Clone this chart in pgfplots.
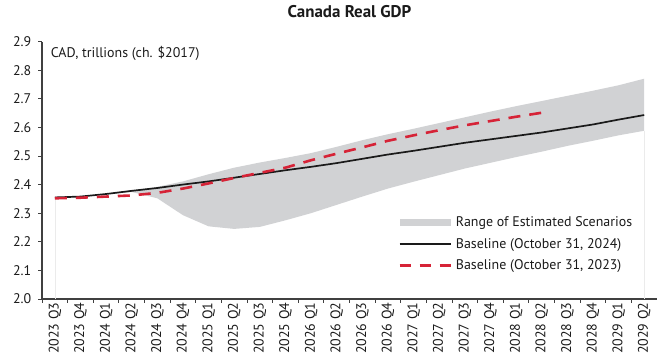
\documentclass[border=0pt]{standalone}
\usepackage{fontspec}
\setmainfont{PT Sans}
\usepackage{pgfplots}
\pgfplotsset{compat=1.18}
\usepgfplotslibrary{fillbetween}
\usepackage{pgfplotstable}

\definecolor{bandgray}{RGB}{209,210,212}
\definecolor{bocred}{RGB}{214,35,55}
\definecolor{axisgray}{RGB}{64,64,64}
\definecolor{linedark}{RGB}{26,26,26}

% quarter index: 0 = 2023 Q3, ..., 23 = 2029 Q2
\pgfplotstableread{
q  gdp
0  2.355
1  2.358
2  2.367
3  2.378
4  2.388
5  2.400
6  2.411
7  2.424
8  2.437
9  2.450
10 2.462
11 2.475
12 2.490
13 2.505
14 2.518
15 2.532
16 2.546
17 2.558
18 2.570
19 2.582
20 2.596
21 2.610
22 2.627
23 2.643
}\baselineTwentyFour

\pgfplotstableread{
q  gdp
0  2.352
1  2.354
2  2.358
3  2.362
4  2.371
5  2.386
6  2.404
7  2.423
8  2.441
9  2.459
10 2.485
11 2.508
12 2.530
13 2.553
14 2.572
15 2.590
16 2.607
17 2.622
18 2.637
19 2.651
}\baselineTwentyThree

\pgfplotstableread{
q  lo     hi
0  2.355  2.355
1  2.357  2.358
2  2.366  2.367
3  2.374  2.379
4  2.352  2.392
5  2.293  2.411
6  2.254  2.436
7  2.245  2.459
8  2.252  2.477
9  2.275  2.493
10 2.300  2.510
11 2.329  2.532
12 2.358  2.555
13 2.386  2.576
14 2.410  2.595
15 2.433  2.615
16 2.456  2.635
17 2.476  2.655
18 2.496  2.674
19 2.515  2.692
20 2.535  2.710
21 2.553  2.728
22 2.572  2.747
23 2.588  2.770
}\scenarioRange

\begin{document}
\begin{tikzpicture}
\begin{axis}[
  at={(0,0)}, anchor=south west,
  width=615bp, height=257.5bp, scale only axis,
  xmin=-0.5, xmax=23.5, ymin=2.0, ymax=2.9,
  axis x line*=bottom, axis y line*=left,
  x axis line style={-}, y axis line style={-},
  axis line style={draw=axisgray, line width=1.1bp},
  xtick={0,...,23},
  xticklabels={2023 Q3,2023 Q4,2024 Q1,2024 Q2,2024 Q3,2024 Q4,
    2025 Q1,2025 Q2,2025 Q3,2025 Q4,2026 Q1,2026 Q2,2026 Q3,2026 Q4,
    2027 Q1,2027 Q2,2027 Q3,2027 Q4,2028 Q1,2028 Q2,2028 Q3,2028 Q4,
    2029 Q1,2029 Q2},
  major x tick style={draw=none},
  minor xtick={-0.5,0.5,...,23.5},
  ytick={2.0,2.1,2.2,2.3,2.4,2.5,2.6,2.7,2.8,2.9},
  tick align=outside,
  major tick length=3.5bp, minor tick length=3.5bp,
  tick style={draw=axisgray, line width=0.8bp},
  /pgf/number format/assume math mode=true,
  y tick label style={/pgf/number format/fixed,
    /pgf/number format/fixed zerofill, /pgf/number format/precision=1},
  ticklabel style={font=\fontsize{14}{16}\selectfont, text=linedark},
  xticklabel style={rotate=90, anchor=east, inner sep=0pt},
  yticklabel style={anchor=east, inner sep=0pt, xshift=-7bp},
  title={Canada Real GDP},
  title style={at={(0.5,1)}, anchor=base, yshift=18.5bp, inner sep=0pt,
    font=\bfseries\fontsize{17}{20}\selectfont, text=linedark},
  legend style={at={(0.579,0.324)}, anchor=north west, draw=none, fill=none,
    inner sep=0pt, row sep=8bp, font=\fontsize{14}{16}\selectfont,
    text=linedark, nodes={inner sep=1bp},
    /tikz/every odd column/.append style={column sep=3bp}},
  legend cell align=left,
]
% outer edges of the scenario range
\addplot[name path=hi, draw=none, forget plot] table[x=q, y=hi] {\scenarioRange};
\addplot[name path=lo, draw=none, forget plot] table[x=q, y=lo] {\scenarioRange};
\addplot[fill=bandgray, draw=none,
  legend image code/.code={\fill[bandgray] (0bp,-3.5bp) rectangle (51bp,3.5bp);}]
  fill between[of=hi and lo];
\addlegendentry{Range of Estimated Scenarios}

% faint edges where the shaded range meets the axis
\addplot[draw=black!8, line width=0.5bp, forget plot] coordinates {(0,2.0) (0,2.355)};
\addplot[draw=black!8, line width=0.5bp, forget plot] coordinates {(23,2.0) (23,2.588)};

\addplot[draw=linedark, line width=1.7bp,
  legend image code/.code={\draw[linedark, line width=1.7bp] (0bp,0bp) -- (51bp,0bp);}]
  table[x=q, y=gdp] {\baselineTwentyFour};
\addlegendentry{Baseline (October 31, 2024)}

\addplot[draw=bocred, line width=2.6bp, dash pattern=on 12bp off 9bp,
  legend image code/.code={\draw[bocred, line width=2.6bp, dash pattern=on 11.5bp off 8.5bp] (0bp,0bp) -- (51bp,0bp);}]
  table[x=q, y=gdp] {\baselineTwentyThree};
\addlegendentry{Baseline (October 31, 2023)}

\node[anchor=north west, inner sep=0pt, font=\fontsize{14}{16}\selectfont, text=linedark]
  at (rel axis cs:0.014,0.983) {CAD, trillions (ch. \$2017)};
\end{axis}
\pgfresetboundingbox
\path[use as bounding box] (-42bp,-59bp) rectangle (615bp,299bp);
\end{tikzpicture}
\end{document}
